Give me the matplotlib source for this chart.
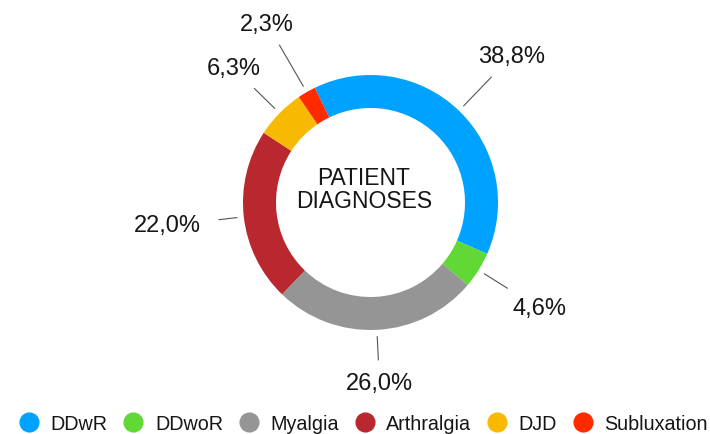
import numpy as np
import matplotlib
matplotlib.use('Agg')
import matplotlib.pyplot as plt
from matplotlib.lines import Line2D

plt.rcParams['font.family'] = ['Liberation Sans', 'DejaVu Sans']

categories = ['DDwR', 'DDwoR', 'Myalgia', 'Arthralgia', 'DJD', 'Subluxation']
shares     = [38.8, 4.6, 26.0, 22.0, 6.3, 2.3]
pct_labels = ['38,8%', '4,6%', '26,0%', '22,0%', '6,3%', '2,3%']
colors     = ['#00A2FF', '#61D836', '#959595', '#B8282E', '#F8BA00', '#FF2A00']

# leader line end / label radius, as a fraction of the outer radius
line_end   = [1.37, 1.27, 1.24, 1.20, 1.28, 1.43]
text_rad   = [1.60, 1.56, 1.42, 1.60, 1.50, 1.62]

W, H = 710, 435
fig = plt.figure(figsize=(W/100, H/100), dpi=100)
ax = fig.add_axes([0, 0, 1, 1])

cx, cy = 370.5, H - 203.5
R = 127.5
start = 115.9

ax.pie(shares, colors=colors, startangle=start, counterclock=False,
       center=(cx, cy), radius=R,
       wedgeprops=dict(width=33, linewidth=0))

# leader lines and labels at the middle of each wedge
cum = np.cumsum([0] + shares[:-1])
for i, (s, c0) in enumerate(zip(shares, cum)):
    ang = np.deg2rad(start - (c0 + s/2) * 3.6)
    ux, uy = np.cos(ang), np.sin(ang)
    ax.plot([cx + 1.05*R*ux, cx + line_end[i]*R*ux],
            [cy + 1.05*R*uy, cy + line_end[i]*R*uy],
            color='#555555', lw=0.8, solid_capstyle='butt')
    ax.text(cx + text_rad[i]*R*ux, cy + text_rad[i]*R*uy, pct_labels[i],
            ha='center', va='center', fontsize=17, color='#161616')

ax.text(364, H - 190, 'PATIENT\nDIAGNOSES', ha='center', va='center',
        fontsize=16.5, linespacing=1.05, color='#161616')

handles = [Line2D([], [], ls='none', marker='o', ms=13.5, mfc=c, mec=c)
           for c in colors]
ax.legend(handles, categories, loc='center', bbox_to_anchor=(0.512, 0.025),
          ncol=6, frameon=False, fontsize=14.2, borderpad=0,
          handlelength=1.0, handletextpad=0.6, columnspacing=0.8,
          labelcolor='#161616')

ax.set_xlim(0, W)
ax.set_ylim(0, H)
ax.set_aspect('equal')
ax.axis('off')

fig.savefig('out.png', dpi=100)
